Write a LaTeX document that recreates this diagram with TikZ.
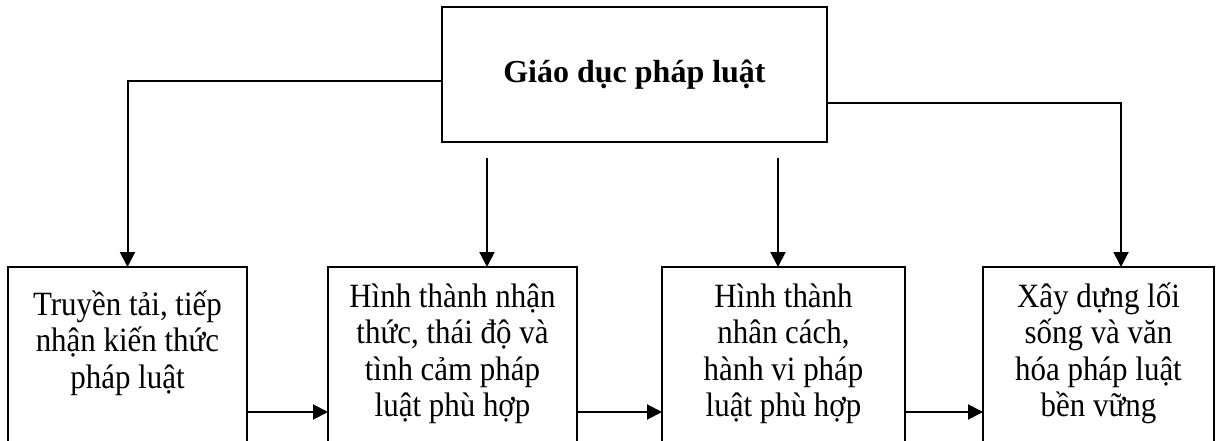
\documentclass[tikz,border=0pt]{standalone}
\usepackage{fontspec}
\setmainfont{Liberation Serif}
\newfontfamily\narrowserif[FakeStretch=0.91]{Liberation Serif}
\usetikzlibrary{arrows.meta}
\newcommand\mlines[1]{\vtop{\baselineskip=36.5pt\lineskiplimit=-100pt\lineskip=0pt\halign{\hfil##\hfil\cr#1\crcr}}}
\begin{document}
\begin{tikzpicture}[x=1pt,y=-1pt,
  boxstyle/.style={draw, line width=2pt, rectangle, inner sep=0pt, outer sep=0pt, anchor=north west},
  lbl/.style={inner sep=0pt, anchor=base, font=\narrowserif\fontsize{34}{36.5}\selectfont},
  arr/.style={-{Triangle[length=15pt,width=15pt]}, line width=2pt},
]
\useasboundingbox (0,0) rectangle (1219,441);
\clip (0,0) rectangle (1219,441);

\node[boxstyle, anchor=center, minimum width=385pt, minimum height=135pt,
  font=\bfseries\fontsize{32}{38}\selectfont] (top) at (634.5,74.5) {Giáo dục pháp luật};

\node[boxstyle, minimum width=239pt, minimum height=230pt] (b1) at (8,267) {};
\node[boxstyle, minimum width=249pt, minimum height=230pt] (b2) at (328,267) {};
\node[boxstyle, minimum width=243pt, minimum height=230pt] (b3) at (662,267) {};
\node[boxstyle, minimum width=231pt, minimum height=230pt] (b4) at (983,267) {};

\node[lbl] (t1) at (127.5,315) {\mlines{Truyền tải, tiếp\cr nhận kiến thức\cr pháp luật}};
\node[lbl] (t2) at (452.5,307) {\mlines{Hình thành nhận\cr thức, thái độ và\cr tình cảm pháp\cr luật phù hợp}};
\node[lbl] (t3) at (783.5,307) {\mlines{Hình thành\cr nhân cách,\cr hành vi pháp\cr luật phù hợp}};
\node[lbl] (t4) at (1098.5,307) {\mlines{Xây dựng lối\cr sống và văn\cr hóa pháp luật\cr bền vững}};

\coordinate (s2) at (487,158);
\coordinate (s3) at (778,158);

\draw[arr] ([yshift=-6.5pt]top.west) -| (b1.north);
\draw[arr] ([yshift=-28.5pt]top.east) -| ([xshift=22.5pt]b4.north);
\draw[arr] (s2) -- (s2 |- b2.north);
\draw[arr] (s3) -- (s3 |- b3.north);

\draw[arr] ([yshift=-145pt]b1.north east) -- ([yshift=-145pt]b2.north west);
\draw[arr] ([yshift=-145pt]b2.north east) -- ([yshift=-145pt]b3.north west);
\draw[arr] ([yshift=-145pt]b3.north east) -- ([yshift=-145pt]b4.north west);
\end{tikzpicture}
\end{document}
